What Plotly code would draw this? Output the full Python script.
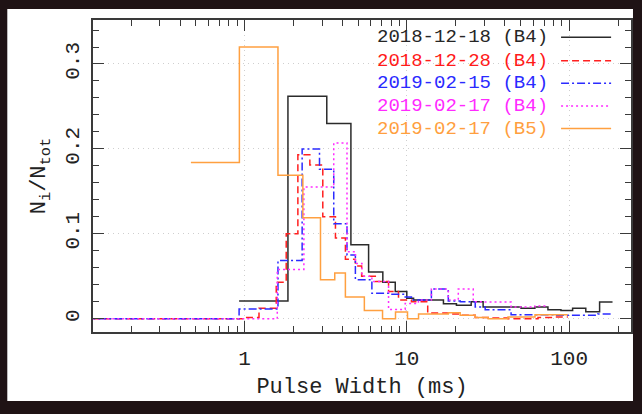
import plotly.graph_objects as go

# Pulse-width histograms: bin edges (ms) and fractional counts N_i/N_tot
labels = ["2018-12-18 (B4)", "2018-12-28 (B4)", "2019-02-15 (B4)",
          "2019-02-17 (B4)", "2019-02-17 (B5)"]

edges_181218 = [0.925, 1.85, 3.21, 4.52, 5.81, 7.11, 8.48, 9.99, 11.0, 16.8,
                20.2, 24.9, 29.5, 50.5, 61.5, 74.0, 89.0, 105.0, 126.6, 154.0, 185.0]
frac_181218 = [0.021, 0.262, 0.23, 0.087, 0.055, 0.043, 0.032, 0.024, 0.022, 0.0176,
               0.016, 0.020, 0.0137, 0.0125, 0.0137, 0.0106, 0.0098, 0.0125, 0.0082, 0.0196]

edges_181228 = [0.1, 0.993, 1.227, 1.567, 1.805, 2.130, 2.524, 3.033, 3.630, 4.181,
                4.816, 5.264, 6.389, 7.711, 8.878, 10.67, 13.44, 18.0, 21.64, 26.37,
                31.7, 42.05, 64.26, 81.7, 98.17]
frac_181228 = [0.0, 0.0016, 0.0125, 0.043, 0.10, 0.193, 0.181, 0.12, 0.095, 0.07,
               0.062, 0.05, 0.044, 0.032, 0.022, 0.020, 0.0067, 0.0055, 0.004, 0.0016,
               0.001, 0.0, 0.0016, 0.002]

edges_190215 = [0.1, 0.925, 1.606, 2.263, 2.895, 3.543, 4.276, 4.816, 6.087, 7.711,
                9.763, 10.67, 14.16, 18.0, 21.33, 26.37, 30.38, 43.86, 81.7, 150.1, 180.3]
frac_190215 = [0.0, 0.0114, 0.0686, 0.20, 0.176, 0.112, 0.075, 0.046, 0.030, 0.029,
               0.0255, 0.022, 0.035, 0.021, 0.020, 0.0137, 0.0106, 0.0047, 0.004, 0.0055]

edges_190217_b4 = [0.1, 1.59, 2.319, 3.543, 4.276, 4.816, 5.286, 6.087, 7.711, 9.763,
                   11.78, 14.16, 18.0, 20.74, 25.64, 29.53, 43.86, 61.57, 73.99]
frac_190217_b4 = [0.0, 0.058, 0.155, 0.207, 0.079, 0.065, 0.05, 0.044, 0.011, 0.018,
                  0.022, 0.035, 0.022, 0.035, 0.02, 0.0196, 0.0137, 0.015]

edges_190217_b5 = [0.467, 0.929, 1.606, 2.286, 2.936, 3.594, 4.18, 5.47, 7.08, 8.51,
                   10.09, 11.8, 18.0, 21.3, 26.4, 31.7, 42.0, 61.6, 98.0]
frac_190217_b5 = [0.184, 0.32, 0.169, 0.119, 0.046, 0.054, 0.0255, 0.0098, 0.0, 0.008,
                  0.0, 0.0055, 0.007, 0.004, 0.0016, 0.0, 0.002, 0.0047]

x_ticks = [1, 10, 100]
x_ticktext = ["1", "10", "100"]
y_ticks = [0, 0.1, 0.2, 0.3]
y_ticktext = ["0", "0.1", "0.2", "0.3"]

series = [
    (edges_181218, frac_181218, "#2b2b2b", "solid"),
    (edges_181228, frac_181228, "#ff2020", "7px,4px"),
    (edges_190215, frac_190215, "#2b2bff", "8px,3px,2px,3px"),
    (edges_190217_b4, frac_190217_b4, "#ff2bff", "2px,3px"),
    (edges_190217_b5, frac_190217_b5, "#ffa040", "solid"),
]
legend_colors = ["#262626", "#ff1a1a", "#2a2aff", "#ff2aff", "#ff9f3f"]

FONT = "Liberation Mono"
X_RANGE = [-0.934, 2.381]
Y_RANGE = [-0.0156, 0.3518]
FRAME = "#3a3a3a"

fig = go.Figure()
for (edges, frac, color, dash), name in zip(series, labels):
    # histogram drawn as a step line: each bin value held from its left to right edge
    fig.add_trace(go.Scatter(
        x=edges, y=frac + [frac[-1]], mode="lines", name=name,
        line=dict(color=color, width=1.5, dash=dash, shape="hv"),
        showlegend=False, hoverinfo="skip",
    ))

# minor ticks: 2..9 of each decade
minor_x = [m * 10 ** d for d in (-1, 0, 1, 2) for m in range(2, 10)]
minor_x = [v for v in minor_x if 0.116 < v < 240]

tick_style = dict(ticks="inside", tickcolor=FRAME, tickwidth=1.2, ticklen=11)
minor_style = dict(ticks="inside", ticklen=6, tickcolor=FRAME, tickwidth=1.2, showgrid=False)

fig.update_xaxes(
    type="log", range=X_RANGE,
    tickmode="array", tickvals=x_ticks, ticktext=x_ticktext,
    minor=dict(tickmode="array", tickvals=minor_x, **minor_style),
    showline=True, linecolor=FRAME, linewidth=1.5, mirror=True,
    showgrid=True, gridcolor="#cfcfcf", griddash="1px,4px", gridwidth=1.2,
    zeroline=False, tickfont=dict(family=FONT, size=21, color="#222222"),
    title=dict(text="Pulse Width (ms)", font=dict(family=FONT, size=22, color="#222222"),
               standoff=8),
    ticklabelstandoff=6,
    **tick_style,
)
fig.update_yaxes(
    range=Y_RANGE,
    tickmode="array", tickvals=y_ticks, ticktext=y_ticktext, tickangle=-90,
    minor=dict(dtick=0.02, **minor_style),
    showline=True, linecolor=FRAME, linewidth=1.5, mirror=True,
    showgrid=True, gridcolor="#cfcfcf", griddash="1px,4px", gridwidth=1.2,
    zeroline=False, tickfont=dict(family=FONT, size=21, color="#222222"),
    title=dict(text="N<sub>i</sub>/N<sub>tot</sub>",
               font=dict(family=FONT, size=22, color="#222222"), standoff=10),
    ticklabelstandoff=4,
    **tick_style,
)

# top and right frame ticks, same scales, no labels
fig.update_layout(
    xaxis2=dict(type="log", range=X_RANGE, overlaying="x", side="top",
                tickmode="array", tickvals=x_ticks, showticklabels=False,
                minor=dict(tickmode="array", tickvals=minor_x, **minor_style),
                showgrid=False, zeroline=False, **tick_style),
    yaxis2=dict(range=Y_RANGE, overlaying="y", side="right",
                tickmode="array", tickvals=y_ticks, showticklabels=False,
                minor=dict(dtick=0.02, **minor_style),
                showgrid=False, zeroline=False, **tick_style),
)
# invisible trace that carries the top/right axes
fig.add_trace(go.Scatter(x=[1], y=[0], xaxis="x2", yaxis="y2", mode="markers",
                         marker=dict(opacity=0), showlegend=False, hoverinfo="skip"))

# legend: coloured labels with a line sample to their right
legend_y = [0.9446, 0.8697, 0.7973, 0.7246, 0.6519]
shapes = [dict(type="rect", xref="paper", yref="paper", x0=-0.1593, x1=1.0037,
               y0=-0.2212, y1=1.0353, fillcolor="white", line=dict(width=0),
               layer="below")]
annotations = []
for (edges, frac, color, dash), name, tcol, ly in zip(series, labels, legend_colors, legend_y):
    annotations.append(dict(
        text=name, xref="paper", yref="paper", x=0.8494, y=ly,
        xanchor="right", yanchor="middle", showarrow=False,
        font=dict(family=FONT, size=19, color=tcol),
    ))
    shapes.append(dict(type="line", xref="paper", yref="paper",
                       x0=0.870, x1=0.963, y0=ly, y1=ly,
                       line=dict(color=color, width=1.5, dash=dash)))

fig.update_layout(
    width=642, height=414,
    margin=dict(l=93, r=9, t=20, b=82),
    paper_bgcolor="#1f1315", plot_bgcolor="white",
    shapes=shapes, annotations=annotations,
    showlegend=False,
)

fig.write_html("out.html")
